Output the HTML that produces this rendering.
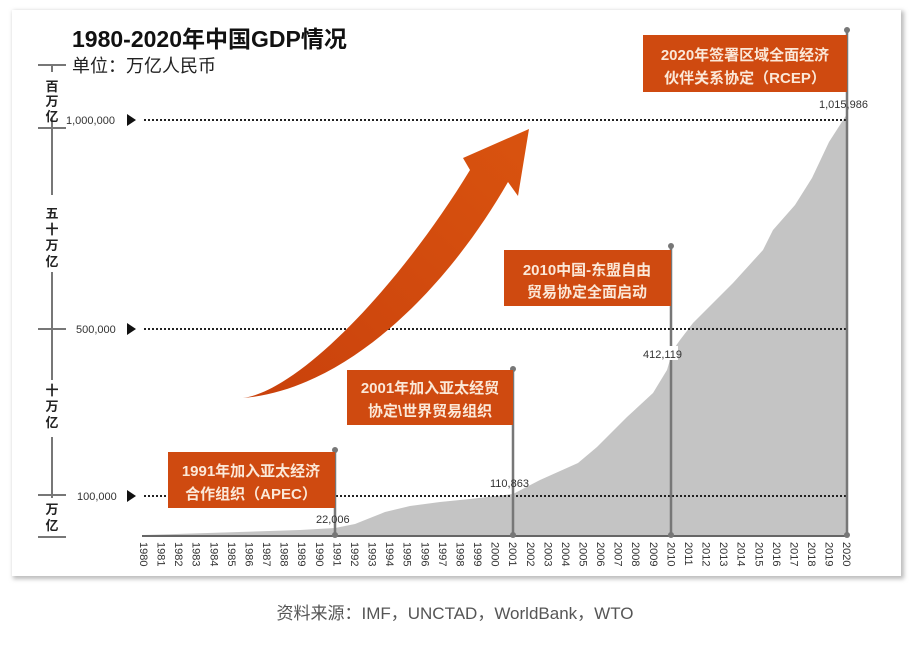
<!DOCTYPE html>
<html><head><meta charset="utf-8"><style>
body{margin:0;width:910px;height:641px;background:#fff;overflow:hidden;font-family:"Liberation Sans","Noto Sans CJK SC",sans-serif;}
</style></head><body>
<svg width="910" height="641" xmlns="http://www.w3.org/2000/svg" font-family="Liberation Sans, Noto Sans CJK SC, sans-serif">
<defs>
<linearGradient id="ag" x1="0" y1="1" x2="1" y2="0"><stop offset="0" stop-color="#c9410c"/><stop offset="1" stop-color="#d9530f"/></linearGradient>
<filter id="sh" x="-5%" y="-5%" width="110%" height="110%"><feGaussianBlur stdDeviation="2"/></filter>
</defs>
<rect x="13" y="11" width="891" height="568" fill="#bbb" filter="url(#sh)"/>
<rect x="12" y="10" width="889" height="566" fill="#fff"/>
<text x="72" y="47" font-size="23" font-weight="bold" fill="#111">1980-2020年中国GDP情况</text>
<text x="72" y="72" font-size="18" fill="#222">单位：万亿人民币</text>
<path d="M144,535 L300,530 L335,528 L355,524 L370,518 L385,512 L410,506 L440,502 L470,499 L513,494 L540,480 L578,463 L597,447 L627,417 L653,393 L667,370 L673,350 L680,340 L693,323 L713,303 L733,283 L763,250 L773,230 L795,205 L812,178 L829,142 L847,114 L847,535 Z" fill="#c4c4c4"/>
<g stroke="#222" stroke-width="2" stroke-dasharray="2,2">
<line x1="144" y1="120" x2="848" y2="120"/>
<line x1="144" y1="329" x2="848" y2="329"/>
<line x1="144" y1="496" x2="848" y2="496"/>
</g>
<g font-size="11" fill="#333">
<text x="66" y="124">1,000,000</text><text x="76" y="333">500,000</text><text x="77" y="500">100,000</text>
</g>
<g fill="#111"><path d="M127,114 l9,6 l-9,6z"/><path d="M127,323 l9,6 l-9,6z"/><path d="M127,490 l9,6 l-9,6z"/></g>
<g stroke="#777" stroke-width="2">
<line x1="52" y1="65" x2="52" y2="72"/><line x1="52" y1="118" x2="52" y2="195"/><line x1="52" y1="272" x2="52" y2="380"/><line x1="52" y1="437" x2="52" y2="498"/>
<line x1="38" y1="65" x2="66" y2="65"/><line x1="38" y1="128" x2="66" y2="128"/><line x1="38" y1="329" x2="66" y2="329"/><line x1="38" y1="495" x2="66" y2="495"/><line x1="38" y1="537" x2="66" y2="537"/>
</g>
<g font-size="13" font-weight="bold" fill="#222" text-anchor="middle">
<text x="52" y="91">百</text><text x="52" y="106">万</text><text x="52" y="121">亿</text>
<text x="52" y="218">五</text><text x="52" y="234">十</text><text x="52" y="250">万</text><text x="52" y="266">亿</text>
<text x="52" y="395">十</text><text x="52" y="411">万</text><text x="52" y="427">亿</text>
<text x="52" y="514">万</text><text x="52" y="530">亿</text>
</g>
<line x1="142" y1="536" x2="848" y2="536" stroke="#666" stroke-width="2"/>
<g font-size="11" fill="#333" id="yrs"></g>
<path d="M243,398 C300,390 400,285 470,170 L463,158 L529,129 L518,196 L508,182 C440,300 340,390 243,398 Z" fill="url(#ag)"/>
<g stroke="#777" stroke-width="2.5">
<line x1="335" y1="450" x2="335" y2="535"/><line x1="513" y1="369" x2="513" y2="535"/><line x1="671" y1="246" x2="671" y2="535"/><line x1="847" y1="30" x2="847" y2="535"/>
</g>
<g fill="#777"><circle cx="335" cy="450" r="3"/><circle cx="513" cy="369" r="3"/><circle cx="671" cy="246" r="3"/><circle cx="847" cy="30" r="3"/>
<circle cx="335" cy="535" r="3"/><circle cx="513" cy="535" r="3"/><circle cx="671" cy="535" r="3"/><circle cx="847" cy="535" r="3"/></g>
<g fill="#cf4a10">
<rect x="168" y="452" width="167" height="56"/><rect x="347" y="370" width="166" height="55"/><rect x="504" y="250" width="167" height="56"/><rect x="643" y="35" width="204" height="57"/>
</g>
<g font-size="15" font-weight="bold" fill="#fbe8d8" text-anchor="middle">
<text x="251" y="476">1991年加入亚太经济</text><text x="251" y="499">合作组织（APEC）</text>
<text x="430" y="393">2001年加入亚太经贸</text><text x="430" y="416">协定\世界贸易组织</text>
<text x="587" y="275">2010中国-东盟自由</text><text x="587" y="297">贸易协定全面启动</text>
<text x="745" y="60">2020年签署区域全面经济</text><text x="745" y="83">伙伴关系协定（RCEP）</text>
</g>
<g font-size="11" fill="#333">
<rect x="640" y="346" width="38" height="14" fill="#fff"/>
<text x="316" y="523">22,006</text><text x="490" y="487">110,863</text><text x="643" y="358">412,119</text><text x="819" y="108">1,015,986</text>
</g>
<text x="455" y="619" font-size="17" fill="#555" text-anchor="middle">资料来源：IMF，UNCTAD，WorldBank，WTO</text>
</svg>
<script>
var g=document.getElementById('yrs'),s='';
for(var i=0;i<=40;i++){var x=144+i*17.58;s+='<text transform="translate('+(x-4)+',542) rotate(90)">'+(1980+i)+'</text>';}
g.innerHTML=s;
</script>
</body></html>
